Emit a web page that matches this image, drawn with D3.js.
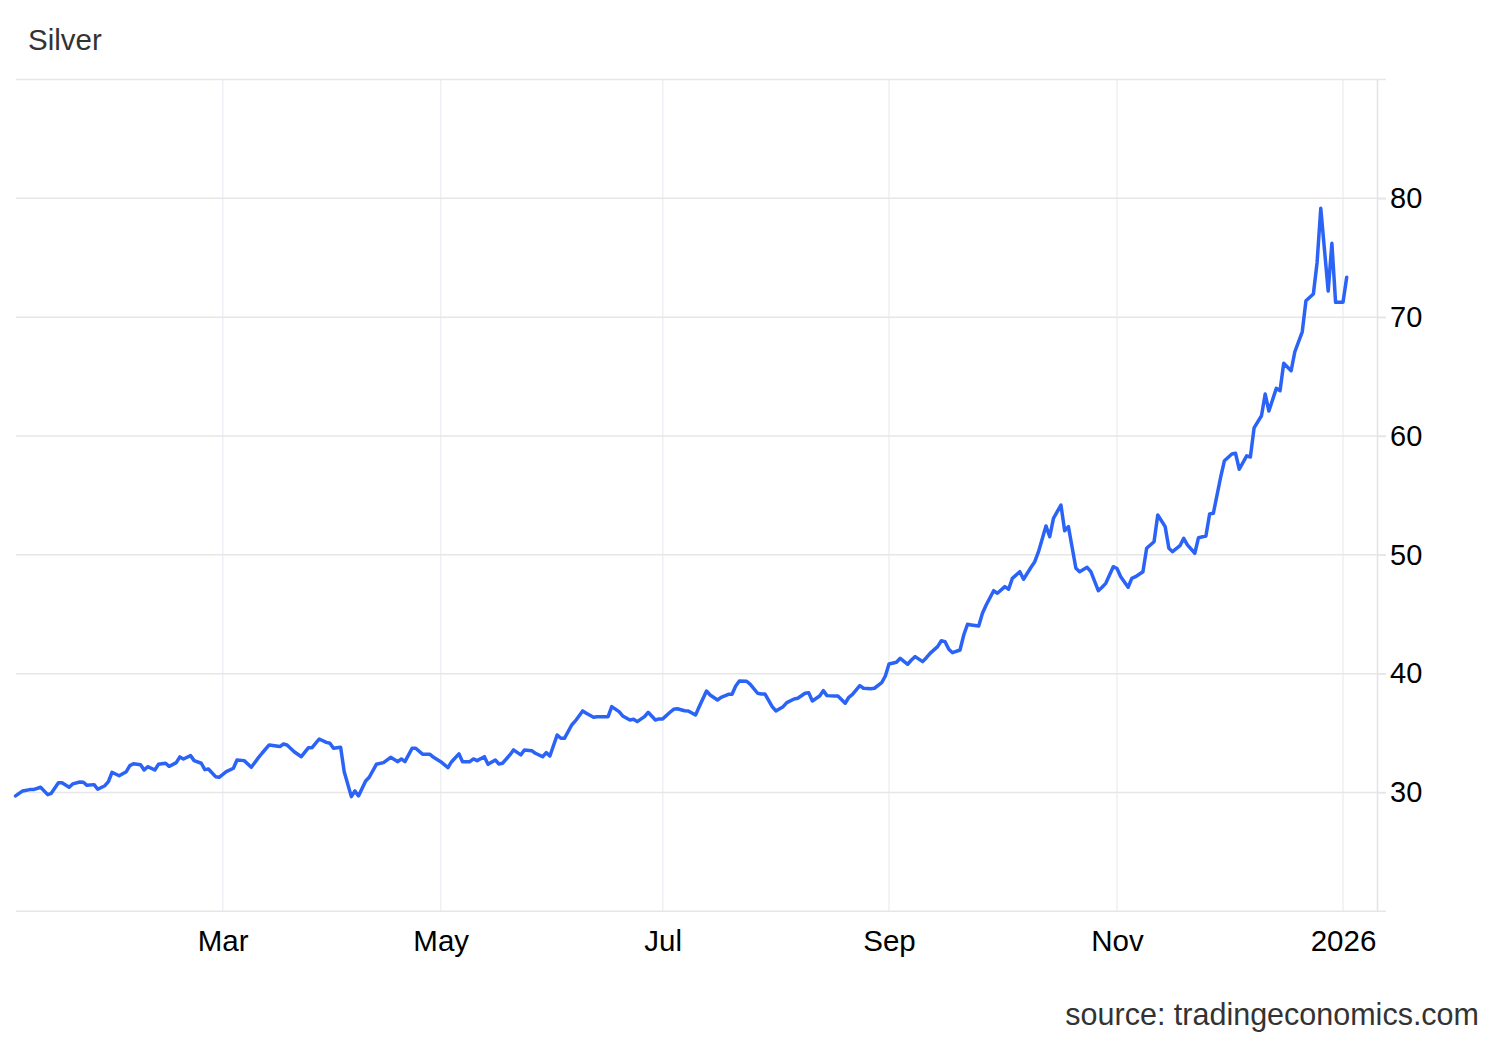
<!DOCTYPE html>
<html><head><meta charset="utf-8">
<script src="https://cdn.jsdelivr.net/npm/d3@7"></script>
<style>
body{margin:0;background:#fff}
svg{display:block}
text{font-family:"Liberation Sans",Arial,Helvetica,sans-serif}
</style>
</head><body>
<svg id="chart" width="1500" height="1040"></svg>
<script>
const dates = [
"2025-01-02","2025-01-04","2025-01-06","2025-01-07","2025-01-09","2025-01-11","2025-01-12","2025-01-14","2025-01-15","2025-01-17",
"2025-01-18","2025-01-20","2025-01-21","2025-01-22","2025-01-24","2025-01-25","2025-01-27","2025-01-28","2025-01-29","2025-01-31",
"2025-02-02","2025-02-03","2025-02-04","2025-02-06","2025-02-07","2025-02-08","2025-02-10","2025-02-11","2025-02-13","2025-02-14",
"2025-02-16","2025-02-17","2025-02-18","2025-02-20","2025-02-21","2025-02-23","2025-02-24","2025-02-25","2025-02-27","2025-02-28",
"2025-03-02","2025-03-04","2025-03-05","2025-03-07","2025-03-09","2025-03-11","2025-03-12","2025-03-14","2025-03-17","2025-03-18",
"2025-03-19","2025-03-21","2025-03-23","2025-03-25","2025-03-26","2025-03-28","2025-03-30","2025-03-31",
"2025-04-01","2025-04-03","2025-04-04","2025-04-06","2025-04-07","2025-04-08","2025-04-10","2025-04-11","2025-04-13","2025-04-15",
"2025-04-17","2025-04-19","2025-04-20","2025-04-21","2025-04-23","2025-04-24","2025-04-26","2025-04-28","2025-04-29",
"2025-05-01","2025-05-03","2025-05-04","2025-05-06","2025-05-07","2025-05-09","2025-05-10","2025-05-11","2025-05-13","2025-05-14",
"2025-05-16","2025-05-17","2025-05-18","2025-05-20","2025-05-21","2025-05-23","2025-05-24","2025-05-26","2025-05-27","2025-05-29",
"2025-05-30","2025-05-31",
"2025-06-02","2025-06-03","2025-06-04","2025-06-06","2025-06-07","2025-06-09","2025-06-10","2025-06-12","2025-06-13","2025-06-16",
"2025-06-17","2025-06-19","2025-06-20","2025-06-22","2025-06-23","2025-06-24","2025-06-26","2025-06-27","2025-06-29","2025-06-30",
"2025-07-01","2025-07-03","2025-07-04","2025-07-05","2025-07-07","2025-07-08","2025-07-10","2025-07-11","2025-07-13","2025-07-14",
"2025-07-16","2025-07-17","2025-07-19","2025-07-20","2025-07-21","2025-07-22","2025-07-24","2025-07-25","2025-07-27","2025-07-28",
"2025-07-29","2025-07-31",
"2025-08-01","2025-08-03","2025-08-04","2025-08-06","2025-08-07","2025-08-09","2025-08-10","2025-08-11","2025-08-13","2025-08-14",
"2025-08-15","2025-08-17","2025-08-18","2025-08-20","2025-08-21","2025-08-22","2025-08-24","2025-08-25","2025-08-27","2025-08-28",
"2025-08-30","2025-08-31",
"2025-09-01","2025-09-03","2025-09-04","2025-09-06","2025-09-07","2025-09-08","2025-09-10","2025-09-11","2025-09-12","2025-09-14",
"2025-09-15","2025-09-16","2025-09-17","2025-09-18","2025-09-20","2025-09-21","2025-09-22","2025-09-23","2025-09-25","2025-09-26",
"2025-09-27","2025-09-29","2025-09-30",
"2025-10-02","2025-10-03","2025-10-04","2025-10-06","2025-10-07","2025-10-09","2025-10-10","2025-10-11","2025-10-13","2025-10-14",
"2025-10-15","2025-10-17","2025-10-18","2025-10-19","2025-10-21","2025-10-22","2025-10-24","2025-10-25","2025-10-27","2025-10-28",
"2025-10-29","2025-10-31",
"2025-11-01","2025-11-02","2025-11-04","2025-11-05","2025-11-06","2025-11-08","2025-11-09","2025-11-11","2025-11-12","2025-11-14",
"2025-11-15","2025-11-16","2025-11-18","2025-11-19","2025-11-20","2025-11-22","2025-11-23","2025-11-25","2025-11-26","2025-11-27",
"2025-11-29","2025-11-30",
"2025-12-02","2025-12-03","2025-12-04","2025-12-06","2025-12-07","2025-12-08","2025-12-10","2025-12-11","2025-12-12","2025-12-14",
"2025-12-15","2025-12-16","2025-12-18","2025-12-19","2025-12-21","2025-12-22","2025-12-24","2025-12-25","2025-12-26","2025-12-28",
"2025-12-29","2025-12-30","2026-01-01","2026-01-02"
];
const prices = [
29.71,30.13,30.24,30.24,30.44,29.82,29.93,30.82,30.82,30.44,
30.72,30.88,30.86,30.60,30.66,30.27,30.57,30.91,31.70,31.41,
31.75,32.26,32.42,32.34,31.89,32.17,31.89,32.37,32.46,32.20,
32.51,32.99,32.82,33.10,32.68,32.46,31.92,31.98,31.33,31.28,
31.75,32.04,32.73,32.68,32.12,32.93,33.30,34.00,33.86,34.08,
34.00,33.43,33.01,33.77,33.77,34.50,34.22,34.14,
33.72,33.80,31.75,29.65,30.13,29.71,30.97,31.28,32.37,32.51,
32.96,32.59,32.82,32.59,33.72,33.72,33.21,33.21,32.96,
32.59,32.09,32.59,33.25,32.59,32.59,32.82,32.68,33.01,32.37,
32.73,32.40,32.46,33.16,33.58,33.16,33.58,33.52,33.30,33.01,
33.35,33.07,
34.84,34.56,34.56,35.68,36.02,36.86,36.66,36.33,36.38,36.38,
37.22,36.80,36.44,36.10,36.16,35.96,36.38,36.75,36.10,36.19,
36.19,36.75,37.00,37.05,36.88,36.86,36.52,37.22,38.54,38.20,
37.78,38.01,38.26,38.26,38.96,39.38,39.36,39.10,38.35,38.29,
38.29,37.22,
36.86,37.22,37.56,37.87,37.93,38.35,38.40,37.70,38.12,38.57,
38.15,38.12,38.12,37.51,38.01,38.26,38.99,38.77,38.73,38.77,
39.24,39.80,
40.81,40.96,41.29,40.79,41.15,41.43,41.01,41.34,41.71,42.27,
42.77,42.69,42.05,41.76,41.99,43.25,44.15,44.10,44.01,45.08,
45.78,46.98,46.76,
47.32,47.10,48.02,48.58,47.94,48.95,49.42,50.26,52.43,51.52,
53.07,54.19,52.03,52.37,48.87,48.58,48.95,48.58,46.98,47.27,
47.60,49.00,
48.85,48.16,47.27,48.02,48.16,48.58,50.55,51.10,53.35,52.37,
50.55,50.26,50.77,51.39,50.83,50.13,51.44,51.58,53.43,53.49,
56.57,57.92,
58.48,58.54,57.20,58.33,58.23,60.68,61.70,63.53,62.10,64.01,
63.81,66.12,65.49,67.09,68.77,71.38,71.95,74.58,79.16,72.20,
76.21,71.25,71.25,73.35
];
const xTickDates = ["2025-03-01","2025-05-01","2025-07-01","2025-09-01","2025-11-01","2026-01-01"];
const xTickLabels = ["Mar","May","Jul","Sep","Nov","2026"];
const yTicks = [30,40,50,60,70,80];
const yGrid = [20,30,40,50,60,70,80,90];
const yDomain = [20, 90];
const titleText = "Silver";
const sourceText = "source: tradingeconomics.com";

(function(){
const parse = d3.timeParse("%Y-%m-%d");
const data = dates.map((d,i)=>({date: parse(d), value: prices[i]}));

const svg = d3.select("#chart");
const pLeft = 16, pRight = 1377, pTop = 79.5, pBottom = 911.3;

// x: time scale anchored on the month ticks (polylinear)
const x = d3.scaleTime()
  .domain([parse("2025-01-01"), ...xTickDates.map(parse)])
  .range([12, 222.7, 440.7, 662.7, 889, 1117, 1343]);
const y = d3.scaleLinear().domain(yDomain).range([pBottom, pTop]);

svg.append("rect").attr("width",1500).attr("height",1040).attr("fill","#fff");

// vertical gridlines
svg.append("g").selectAll("line").data(xTickDates.map(parse)).join("line")
  .attr("x1", d=>x(d)).attr("x2", d=>x(d))
  .attr("y1", pTop).attr("y2", pBottom)
  .attr("stroke","#edf0f5").attr("stroke-width",1.5);

// horizontal gridlines
svg.append("g").selectAll("line").data(yGrid).join("line")
  .attr("x1", pLeft).attr("x2", pRight + 9)
  .attr("y1", d=>y(d)).attr("y2", d=>y(d))
  .attr("stroke","#e6e6e6").attr("stroke-width",1.5);

// right axis
const yAxis = svg.append("g")
  .attr("transform", `translate(${pRight},0)`)
  .call(d3.axisRight(y).tickValues(yTicks).tickSize(9).tickSizeOuter(0).tickPadding(4));
yAxis.select(".domain").attr("stroke","#e3e3e3").attr("stroke-width",1.5);
yAxis.selectAll(".tick line").attr("stroke","#e6e6e6").attr("stroke-width",1.5);
yAxis.selectAll(".tick text").attr("font-size",29).attr("fill","#000")
  .attr("font-family",'"Liberation Sans",Arial,sans-serif');

// bottom axis labels
const xAxis = svg.append("g")
  .attr("transform", `translate(0,${pBottom})`)
  .call(d3.axisBottom(x).tickValues(xTickDates.map(parse))
    .tickFormat((d,i)=>xTickLabels[i]).tickSize(0).tickPadding(19));
xAxis.select(".domain").remove();
xAxis.selectAll(".tick text").attr("font-size",29.5).attr("fill","#000")
  .attr("font-family",'"Liberation Sans",Arial,sans-serif');

// line
const line = d3.line().x(d=>x(d.date)).y(d=>y(d.value));
svg.append("path").datum(data)
  .attr("d", line)
  .attr("fill","none")
  .attr("stroke","#2a63f6")
  .attr("stroke-width",3.5)
  .attr("stroke-linejoin","round")
  .attr("stroke-linecap","round");

// title & source
svg.append("text").attr("x",28).attr("y",50).attr("font-size",29.5).attr("fill","#333").text(titleText);
svg.append("text").attr("x",1479).attr("y",1025).attr("text-anchor","end")
  .attr("font-size",30.5).attr("fill","#333").text(sourceText);
})();
</script>
</body></html>
